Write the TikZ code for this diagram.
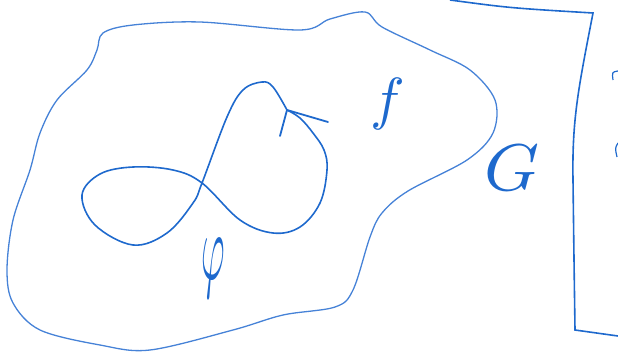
\documentclass[tikz,border=0pt]{standalone}
\usepackage{amsmath,amssymb}
\usepackage{tikz}
\usetikzlibrary{calc}
\definecolor{penblue}{RGB}{30,105,205}
\definecolor{penfade}{RGB}{70,130,215}

\begin{document}
\begin{tikzpicture}[x=1pt,y=-1pt]
        \useasboundingbox (0,0) rectangle (618,356);
        % region bounded by the blob
        \draw[penfade,line width=1.3pt] plot[smooth cycle,tension=0.55] coordinates {
          (103,33) (133,25) (200,22) (300,30) (330,19) (365,12) (382,27)
          (430,50) (470,70) (495,100) (493,133) (467,160) (408,191)
          (382,213) (370,237) (353,290) (335,307) (283,315) (233,330)
          (150,350) (100,345) (40,330) (13,303) (7,270) (13,220)
          (30,170) (40,133) (57,100) (87,70) (97,50)};
        % the loop phi with its arrow
        \coordinate (tip) at (287,110);
        \draw[penblue,line width=1.6pt] plot[smooth,tension=0.6] coordinates {
          (tip) (273,87) (262,82) (243,90) (227,117) (202,183) (193,203)
          (167,233) (133,245) (95,225) (82,195) (100,174) (133,167)
          (173,170) (202,183) (240,220) (273,233) (300,227) (320,203)
          (327,170) (324,150) (313,133) (300,118) (tip)};
        \coordinate (legA) at (280,136);
        \coordinate (legB) at (328,122);
        \draw[penblue,line width=1.8pt,line cap=round] (legA) -- (tip) -- (legB);
        % frame on the right
        \draw[penblue,line width=1.6pt] (450,0) .. controls (510,8) .. (593,13)
          .. controls (578,90) and (572,120) .. (573,180)
          .. controls (574,260) .. (575,330) -- (618,336);
        \draw[penblue,line width=1.2pt] (613,80) .. controls (612,72) .. (618,71);
        \draw[penblue,line width=1.2pt] (618,143) .. controls (615,148) .. (617,157);
        % labels
        \node[penblue,scale=5.8] (lblf) at (388,104) {$f$};
        \node[penblue,xscale=7,yscale=6.6] (lblG) at (512,168) {$G$};
        \node[penblue,xscale=3.6,yscale=9.5] (lblphi) at (213,268) {$\varphi$};
\end{tikzpicture}
\end{document}
